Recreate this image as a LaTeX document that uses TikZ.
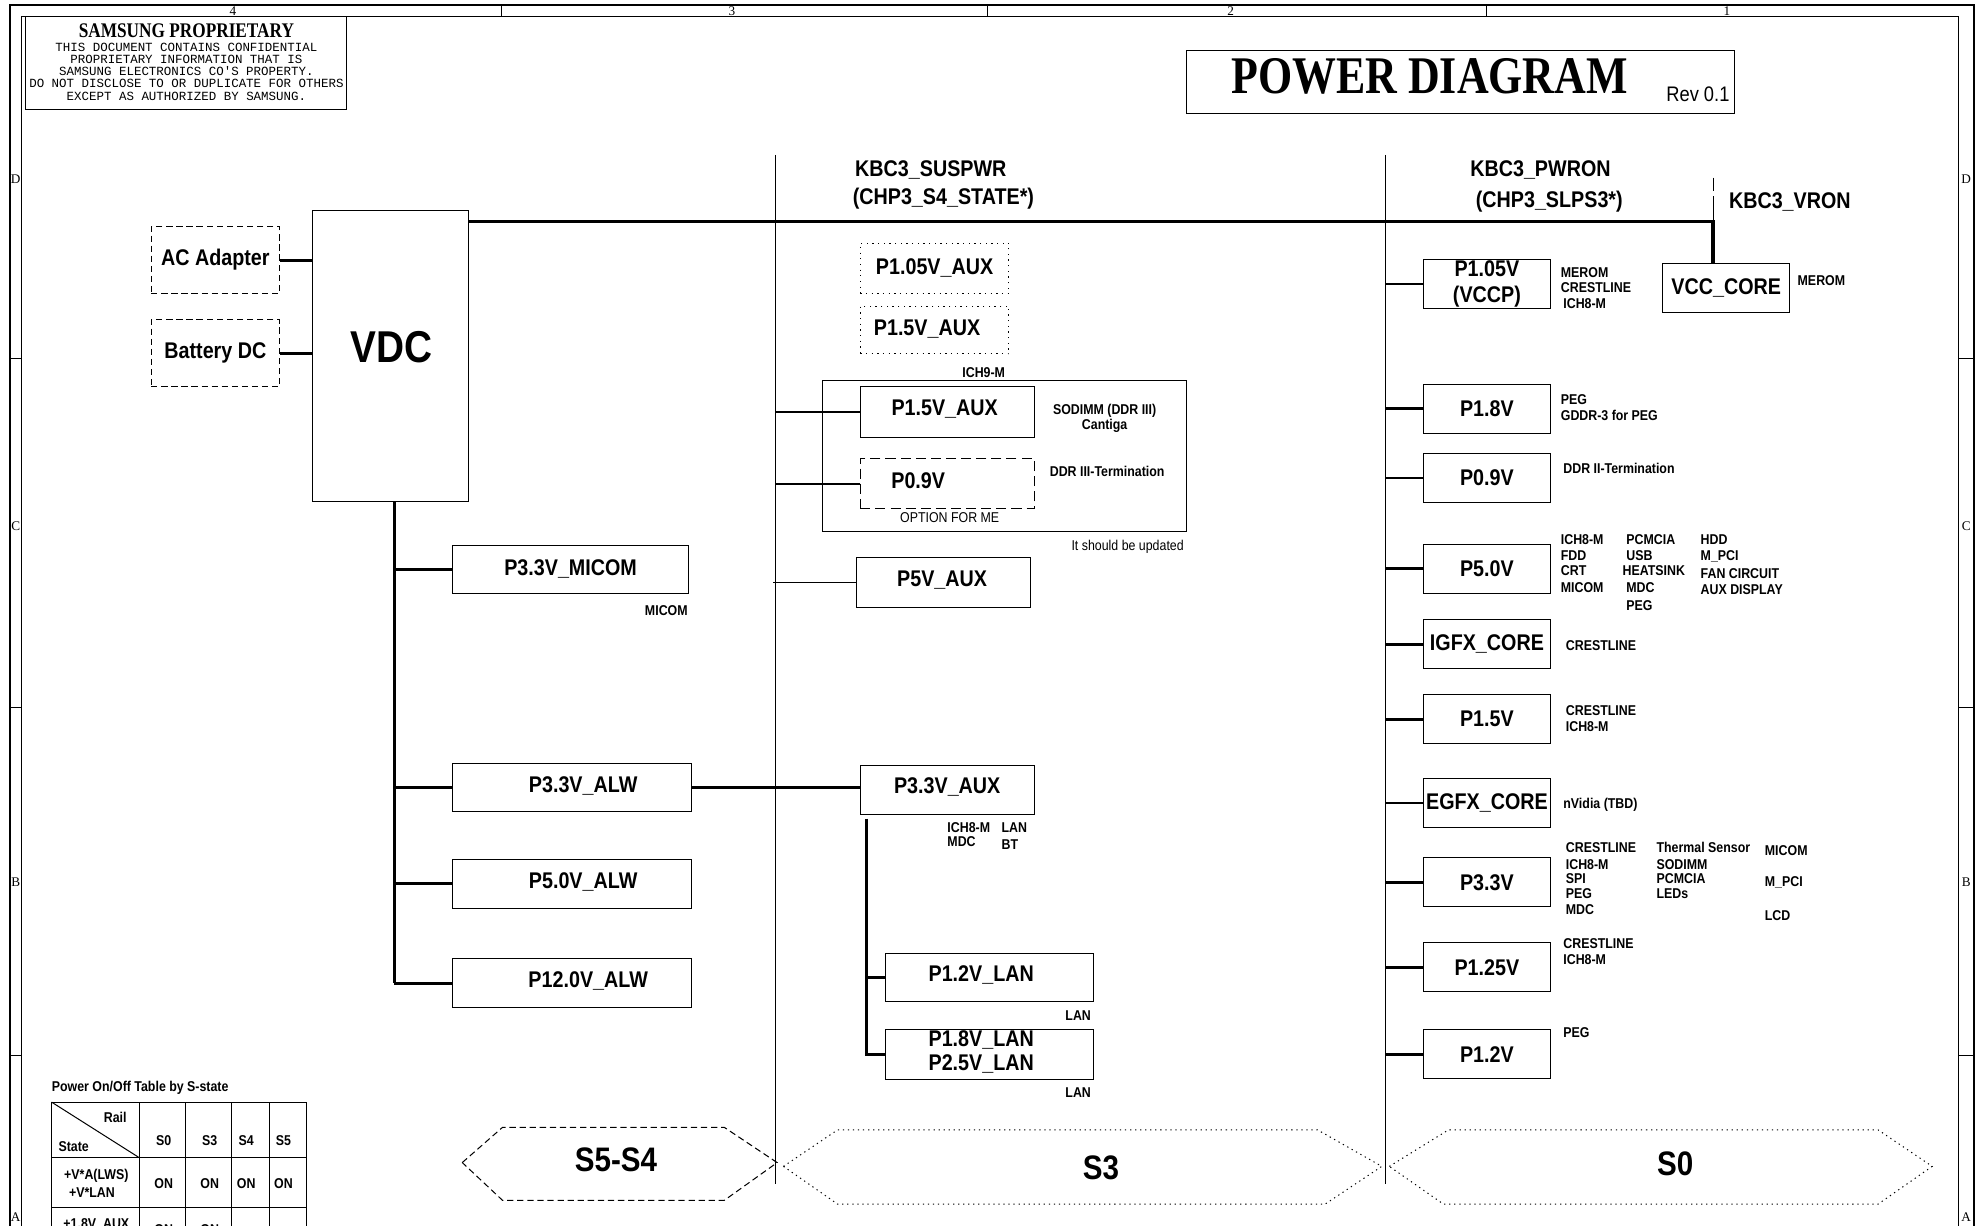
\documentclass[tikz,border=0pt]{standalone}
\usepackage{fontspec}
\newfontfamily\sansN[FakeStretch=0.87]{Liberation Sans}
\newfontfamily\titleF[FakeStretch=0.83]{Liberation Serif}
\newfontfamily\serifR{Liberation Serif}
\newfontfamily\monoF{Liberation Mono}
\begin{document}
\begin{tikzpicture}[x=1pt,y=-1pt,
  pbox/.style={draw, line width=0.8pt, inner sep=0pt, align=center,
     font=\sansN\bfseries\fontsize{18}{20}\selectfont},
  dashbox/.style={pbox, dash pattern=on 5pt off 3pt},
  dotbox/.style={pbox, dash pattern=on 1pt off 3.5pt},
  hdr/.style={inner sep=0pt, align=center, font=\sansN\bfseries\fontsize{18}{19}\selectfont},
  lbl/.style={inner sep=0pt, anchor=west, text height=8.1pt, text depth=0pt,
     font=\sansN\bfseries\fontsize{11.3}{12.5}\selectfont},
  lblc/.style={lbl, anchor=center},
  reg/.style={inner sep=0pt, text height=8.1pt, text depth=0pt,
     font=\sansN\fontsize{11.3}{12.5}\selectfont},
  big/.style={inner sep=0pt, font=\sansN\bfseries\fontsize{27}{30}\selectfont},
  tinyl/.style={inner sep=0pt, font=\serifR\fontsize{10.5}{11}\selectfont},
  bus/.style={line width=2.8pt},
  br/.style={line width=2.3pt},
  midl/.style={line width=1.5pt},
  thinl/.style={line width=0.8pt},
]
\useasboundingbox (0,0) rectangle (1568,973);
\clip (0,0) rectangle (1568,973);
\fill[white] (0,0) rectangle (1568,973);

% ---------- sheet frame ----------
\draw[line width=1.2pt] (8,1000) -- (8,4) -- (1567,4) -- (1567,1000);
\draw[thinl] (17,1000) -- (17,13) -- (1555,13) -- (1555,1000);
\foreach \x in {398,784,1180} \draw[thinl] (\x,4) -- (\x,13);
\foreach \y in {285,562,838} {\draw[thinl] (8,\y) -- (17,\y); \draw[thinl] (1555,\y) -- (1567,\y);}
\node[tinyl] (c4) at (185,8.5) {4};
\node[tinyl] (c3) at (581,8.5) {3};
\node[tinyl] (c2) at (977,8.5) {2};
\node[tinyl] (c1) at (1371,8.5) {1};
\foreach \r/\y [count=\i] in {D/142,C/418,B/700,A/966} {
  \node[tinyl] (rl\i) at (12.5,\y) {\r};
  \node[tinyl] (rr\i) at (1561,\y) {\r};
}

% ---------- proprietary notice ----------
\node[draw, thinl, minimum width=255pt, minimum height=74pt, inner sep=0pt] (prop) at (147.5,50) {};
\node[inner sep=0pt, font=\titleF\bfseries\fontsize{16.5}{18}\selectfont] (propt) at (148,24) {SAMSUNG PROPRIETARY};
\node[inner sep=0pt, align=center, font=\monoF\fontsize{9.9}{9.6}\selectfont] (propb) at (148,57)
 {THIS DOCUMENT CONTAINS CONFIDENTIAL\\PROPRIETARY INFORMATION THAT IS\\SAMSUNG ELECTRONICS CO'S PROPERTY.\\DO NOT DISCLOSE TO OR DUPLICATE FOR OTHERS\\EXCEPT AS AUTHORIZED BY SAMSUNG.};

% ---------- title ----------
\node[draw, thinl, minimum width=435pt, minimum height=50pt, inner sep=0pt] (title) at (1159.5,65) {};
\node[inner sep=0pt, font=\titleF\bfseries\fontsize{42}{44}\selectfont] (titlet) at (1135,61) {POWER DIAGRAM};
\node[inner sep=0pt, font=\sansN\fontsize{16.7}{18}\selectfont] (rev) at (1348,75) {Rev 0.1};

% ---------- column headers ----------
\node[hdr] (kbcs) at (739,135) {KBC3\_SUSPWR};
\node[hdr] (kbcsb) at (749,158) {(CHP3\_S4\_STATE*)};
\node[hdr] (kbcp) at (1223,135) {KBC3\_PWRON};
\node[hdr] (kbcpb) at (1230,160) {(CHP3\_SLPS3*)};
\node[hdr] (kbcv) at (1421,160) {KBC3\_VRON};

% ---------- dividers ----------
\coordinate (dLt) at (616,123); \coordinate (dLb) at (616,940);
\coordinate (dRt) at (1100,123); \coordinate (dRb) at (1100,940);
\draw[thinl] (dLt) -- (dLb);
\draw[thinl] (dRt) -- (dRb);

% ---------- left: sources and VDC ----------
\node[dashbox, minimum width=102pt, minimum height=53pt] (ac) at (171,206.5) {AC Adapter};
\node[dashbox, minimum width=102pt, minimum height=53pt] (bat) at (171,280.5) {Battery DC};
\node[pbox, minimum width=124pt, minimum height=231pt] (vdc) at (310,282.5) {};
\node[inner sep=0pt, font=\sansN\bfseries\fontsize{35.4}{38}\selectfont] (vdct) at (311,276) {VDC};
\draw[br] (ac.east) -- (ac.east -| vdc.west);
\draw[br] (bat.east) -- (bat.east -| vdc.west);

\node[pbox, minimum width=188pt, minimum height=38pt] (micom) at (453,452) {P3.3V\_MICOM};
\node[lblc] (micoml) at (529,485) {MICOM};
\node[pbox, minimum width=190pt, minimum height=38pt] (alw33) at (454,625) {};
\node[hdr] (alw33t) at (463,624) {P3.3V\_ALW};
\node[pbox, minimum width=190pt, minimum height=39pt] (alw50) at (454,701.5) {};
\node[hdr] (alw50t) at (463,700) {P5.0V\_ALW};
\node[pbox, minimum width=190pt, minimum height=39pt] (alw12) at (454,780.5) {};
\node[hdr] (alw12t) at (467,779) {P12.0V\_ALW};

\coordinate (lvB) at (313,780.5);
\draw[br] (vdc.south -| lvB) -- (lvB);
\foreach \n in {micom,alw33,alw50,alw12} \draw[br] (\n.west -| lvB) -- (\n.west);

% ---------- main bus ----------
\coordinate (busE) at (1360,176);
\coordinate (vronT) at (1360,141);
\node[pbox, minimum width=101pt, minimum height=39pt] (vcc) at (1370.5,228.5) {VCC\_CORE};
\draw[bus] (vdc.east |- busE) -- (busE) -- (busE |- vcc.north);
\draw[thinl, dash pattern=on 11pt off 4pt on 22pt off 2pt] (vronT) -- (vronT |- busE);
\node[lbl] (vccl) at (1427,223) {MEROM};

% ---------- middle column ----------
\node[dotbox, minimum width=118pt, minimum height=40pt] (aux105) at (742,213) {P1.05V\_AUX};
\node[dotbox, minimum width=118pt, minimum height=38pt] (aux15a) at (742,262) {};
\node[hdr] (aux15at) at (736,261) {P1.5V\_AUX};
\node[lblc] (ich9) at (781,296) {ICH9-M};
\node[draw, thinl, minimum width=289pt, minimum height=120pt, inner sep=0pt] (grp) at (797.5,362) {};
\node[pbox, minimum width=138pt, minimum height=40pt] (aux15) at (752,327) {};
\node[hdr] (aux15t) at (750,324.5) {P1.5V\_AUX};
\node[lblc] (sod) at (877,325) {SODIMM (DDR III)};
\node[lblc] (cant) at (877,337) {Cantiga};
\node[pbox, dash pattern=on 8pt off 4pt, minimum width=138pt, minimum height=40pt] (p09m) at (752,384) {};
\node[hdr] (p09mt) at (729,382) {P0.9V};
\node[lblc] (ddr3) at (879,374) {DDR III-Termination};
\node[reg] (optme) at (754,411) {OPTION FOR ME};
\node[reg, anchor=east] (upd) at (940,433) {It should be updated};
\node[pbox, minimum width=138pt, minimum height=39pt] (p5aux) at (749,462.5) {};
\node[hdr] (p5auxt) at (748,460.5) {P5V\_AUX};
\draw[midl] (aux15.west -| dLt) -- (aux15.west);
\draw[midl] (p09m.west -| dLt) -- (p09m.west);
\draw[midl] (p5aux.west -| dLt) ++(-2,0) -- (p5aux.west);

\node[pbox, minimum width=138pt, minimum height=39pt] (aux33) at (752,627.5) {};
\node[hdr] (aux33t) at (752,625) {P3.3V\_AUX};
\draw[br] (alw33.east) -- (alw33.east -| aux33.west);
\node[lbl] (a33a) at (752,657) {ICH8-M};
\node[lbl] (a33b) at (752,668) {MDC};
\node[lbl] (a33c) at (795,657) {LAN};
\node[lbl] (a33d) at (795,670) {BT};

\node[pbox, minimum width=165pt, minimum height=38pt] (lan12) at (785.5,776) {};
\node[hdr] (lan12t) at (779,774) {P1.2V\_LAN};
\node[lblc] (lanl1) at (856,806) {LAN};
\node[pbox, minimum width=165pt, minimum height=40pt] (lan18) at (785.5,837) {};
\node[hdr] (lan18t) at (779,835.5) {P1.8V\_LAN\\P2.5V\_LAN};
\node[lblc] (lanl2) at (856,867) {LAN};
\coordinate (lanT) at (688,650);
\draw[br] (lanT) -- (lanT |- lan18.west) -- (lan18.west);
\draw[br] (lan12.west -| lanT) -- (lan12.west);

% ---------- right column ----------
\foreach \n/\y/\t in {vccp/225.5/{P1.05V\\[1pt](VCCP)}, p18/324.5/P1.8V, p09/379.5/P0.9V, p50/451.5/P5.0V,
   igfx/511.5/IGFX\_CORE, p15/571/P1.5V, egfx/637.5/EGFX\_CORE, p33/700.5/P3.3V,
   p125/768/P1.25V, p12/837/P1.2V} {
  \node[pbox, minimum width=101pt, minimum height=39pt] (\n) at (1180.5,\y) {\t};
  \draw[br] (\n.west -| dRt) -- (\n.west);
}
% load labels
\foreach \t/\x/\y [count=\i] in {MEROM/1239/216, CRESTLINE/1239/228, ICH8-M/1241/241,
   PEG/1239/317, GDDR-3 for PEG/1239/330, DDR II-Termination/1241/372,
   ICH8-M/1239/428, FDD/1239/441, CRT/1239/453, MICOM/1239/466,
   PCMCIA/1291/428, USB/1291/441, HEATSINK/1288/453, MDC/1291/466, PEG/1291/481,
   HDD/1350/428, M\_PCI/1350/441, FAN CIRCUIT/1350/455, AUX DISPLAY/1350/468,
   CRESTLINE/1243/512, CRESTLINE/1243/564, ICH8-M/1243/577, nVidia (TBD)/1241/638,
   CRESTLINE/1243/673, ICH8-M/1243/686, SPI/1243/697, PEG/1243/709, MDC/1243/722,
   Thermal Sensor/1315/673, SODIMM/1315/686, PCMCIA/1315/697, LEDs/1315/709,
   MICOM/1401/675, M\_PCI/1401/700, LCD/1401/727,
   CRESTLINE/1241/749, ICH8-M/1241/762, PEG/1241/820}
  \node[lbl] (rl-\i) at (\x,\y) {\t};

% ---------- state banners ----------
\draw[thinl, dash pattern=on 5pt off 3pt] (367,923) -- (399,895) -- (575,895) -- (617,923) -- (575,953) -- (399,953) -- cycle;
\node[big] (s54) at (489,921) {S5-S4};
\draw[thinl, dash pattern=on 1pt off 3pt] (622,926) -- (665,897) -- (1046,897) -- (1097,926) -- (1052,956) -- (665,956) -- cycle;
\node[big] (s3) at (874,927) {S3};
\draw[thinl, dash pattern=on 1pt off 3pt] (1103,926) -- (1150,897) -- (1491,897) -- (1534,926) -- (1491,956) -- (1146,956) -- cycle;
\node[big] (s0) at (1330,924) {S0};

% ---------- power table ----------
\node[lbl] (tblt) at (41,862.5) {Power On/Off Table by S-state};
\foreach \x in {41,110.4,147.4,184,214,243.5} \draw[thinl] (\x,875) -- (\x,1000);
\foreach \y in {875,919,958.5} \draw[thinl] (41,\y) -- (243.5,\y);
\draw[thinl] (41,875) -- (110.4,919);
\node[lblc] (trail) at (91.5,887) {Rail};
\node[lblc] (tstate) at (58.5,910) {State};
\foreach \t/\x [count=\i] in {S0/130,S3/166.5,S4/195.5,S5/225} \node[lblc] (th\i) at (\x,905) {\t};
\node[lblc] (tr1a) at (76.5,932) {+V*A(LWS)};
\node[lblc] (tr1b) at (73,947) {+V*LAN};
\foreach \x [count=\i] in {130,166.5,195.5,225} \node[lblc] (ton\i) at (\x,939.5) {ON};
\node[lblc] (tr2a) at (76.5,971.5) {+1.8V\_AUX};
\node[lblc] (ton5) at (130,976) {ON};
\node[lblc] (ton6) at (166.5,976) {ON};
\end{tikzpicture}
\end{document}
